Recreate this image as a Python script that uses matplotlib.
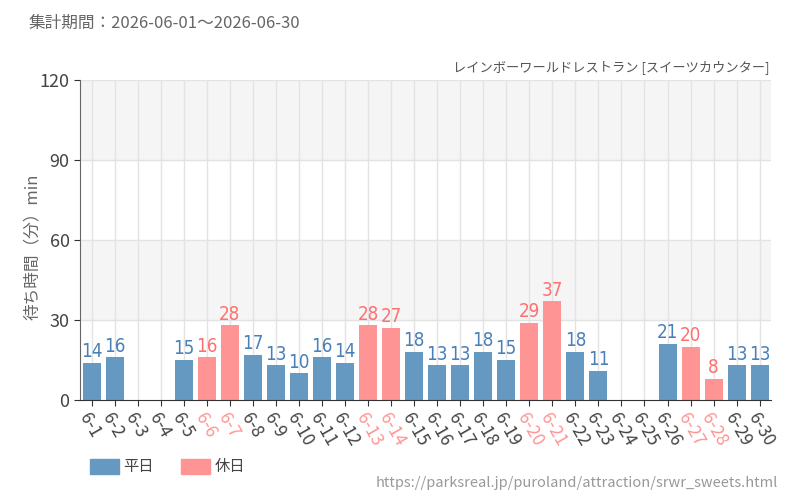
import matplotlib
matplotlib.use("Agg")
import matplotlib.pyplot as plt
from matplotlib.patches import Patch

plt.rcParams["font.family"] = ["Noto Sans CJK JP", "DejaVu Sans"]

# ---------------------------------------------------------------------------
# Data
# ---------------------------------------------------------------------------
days = [f"6-{d}" for d in range(1, 31)]
waits = [14, 16, None, None, 15, 16, 28, 17, 13, 10,
         16, 14, 28, 27, 18, 13, 13, 18, 15, 29,
         37, 18, 11, None, None, 21, 20, 8, 13, 13]
holiday = [False, False, False, False, False, True, True, False, False, False,
           False, False, True, True, False, False, False, False, False, True,
           True, False, False, False, False, False, True, True, False, False]

BLUE = "#6699c2"
PINK = "#ff9494"
BLUE_TXT = "#4a80b8"
PINK_TXT = "#ff7070"

fig = plt.figure(figsize=(8, 5), dpi=100)
ax = fig.add_axes([0.1, 0.2, 0.864, 0.64])

# alternating bands
for lo, hi, c in [(0, 30, "white"), (30, 60, "#f5f5f5"), (60, 90, "white"), (90, 120, "#f5f5f5")]:
    ax.axhspan(lo, hi, color=c, zorder=0)
for y in (30, 60, 90, 120):
    ax.axhline(y, color="#e3e3e3", lw=1, zorder=1)
for i in range(len(days)):
    ax.axvline(i, color="#e3e3e3", lw=1, zorder=1)

for i, (v, h) in enumerate(zip(waits, holiday)):
    if v is None:
        continue
    ax.bar(i, v, width=0.78, color=PINK if h else BLUE, zorder=2)
    ax.text(i, v + 0.6, str(v), ha="center", va="bottom", fontsize=13.5,
            color=PINK_TXT if h else BLUE_TXT, family="DejaVu Sans",
            stretch="condensed", zorder=3)

ax.set_xlim(-0.5, len(days) - 0.5)
ax.set_ylim(0, 120)
ax.set_yticks([0, 30, 60, 90, 120])
ax.tick_params(axis="y", labelsize=13, length=4, color="#333333", labelcolor="#444444")
ax.set_xticks(range(len(days)))
ax.set_xticklabels(days, rotation=-60, ha="left", rotation_mode="anchor", fontsize=12.5)
for lab, h in zip(ax.get_xticklabels(), holiday):
    lab.set_color(PINK if h else "#444444")
ax.tick_params(axis="x", length=4, color="#333333")

for s in ("top", "right"):
    ax.spines[s].set_visible(False)
ax.spines["left"].set_color("#666666")
ax.spines["bottom"].set_color("#333333")

ax.set_ylabel("待ち時間（分）min", fontsize=12, color="#666666")
ax.yaxis.set_label_coords(-0.057, 0.48)

fig.text(0.036, 0.953, "集計期間：2026-06-01～2026-06-30", fontsize=12, color="#666666", va="center")
fig.text(0.962, 0.865, "レインボーワールドレストラン [スイーツカウンター]", fontsize=9.5,
         color="#555555", ha="right", va="center")

handles = [Patch(color=BLUE, label="平日"), Patch(color=PINK, label="休日")]
fig.legend(handles=handles, loc="center left", bbox_to_anchor=(0.112, 0.066), ncol=2,
           frameon=False, fontsize=11, handlelength=1.9, handleheight=1.1,
           columnspacing=1.8, handletextpad=0.3, labelcolor="#444444",
           borderaxespad=0, borderpad=0)
fig.text(0.973, 0.035, "https://parksreal.jp/puroland/attraction/srwr_sweets.html",
         fontsize=10.5, color="#999999", ha="right", va="center")

fig.savefig("out.png", dpi=100)
